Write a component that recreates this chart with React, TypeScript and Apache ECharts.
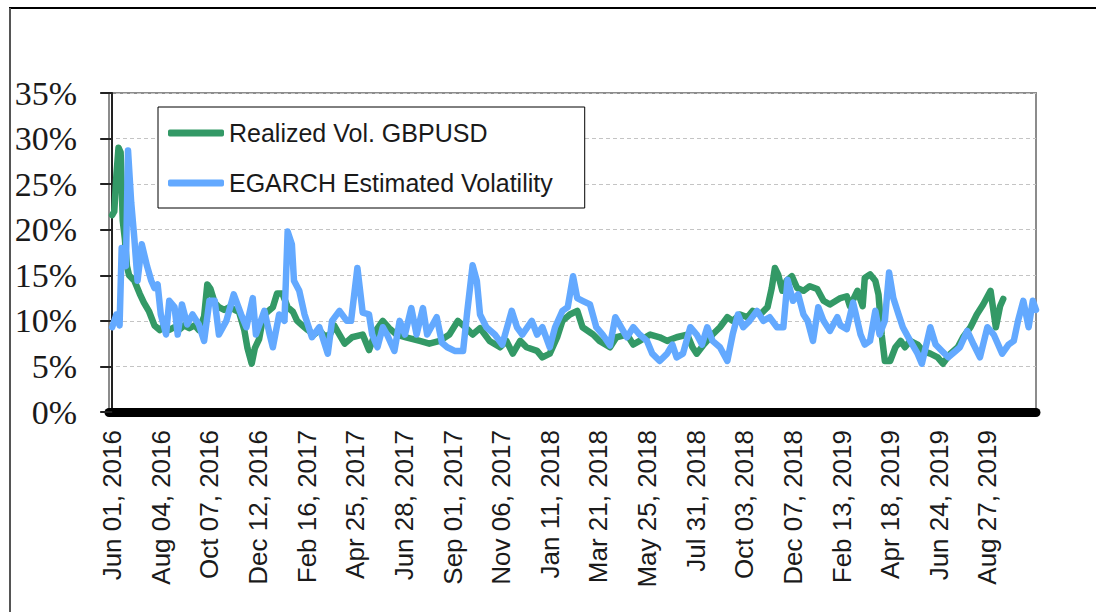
import React, { useEffect, useRef } from "react";
import * as echarts from "echarts";

// Business-day index of each tick label (0 = Jun 01, 2016)
const tickDays = [0, 46, 92, 138, 184, 230, 276, 322, 368, 414, 460, 506, 552, 598, 644, 690, 736, 782, 828];
const tickLabels = [
  "Jun 01, 2016", "Aug 04, 2016", "Oct 07, 2016", "Dec 12, 2016", "Feb 16, 2017",
  "Apr 25, 2017", "Jun 28, 2017", "Sep 01, 2017", "Nov 06, 2017", "Jan 11, 2018",
  "Mar 21, 2018", "May 25, 2018", "Jul 31, 2018", "Oct 03, 2018", "Dec 07, 2018",
  "Feb 13, 2019", "Apr 18, 2019", "Jun 24, 2019", "Aug 27, 2019",
];

const yTicks = [0, 5, 10, 15, 20, 25, 30, 35];

// Realized Vol. GBPUSD (%)
const realizedDays = [
  0, 2, 4, 6, 8, 10, 12, 14, 16, 21, 26, 30, 35, 40, 45, 49, 54, 59, 63, 68, 73, 78, 82, 87, 90, 93, 97, 101,
  106, 111, 116, 120, 125, 128, 132, 135, 139, 143, 147, 152, 156, 161, 166, 171, 175, 180, 185, 191, 196,
  201, 206, 210, 215, 220, 227, 237, 243, 250, 256, 262, 269, 278, 291, 300, 310, 319, 327, 335, 341, 348,
  357, 367, 373, 379, 386, 392, 402, 407, 414, 421, 426, 433, 440, 445, 455, 461, 471, 477, 487, 493, 499,
  509, 518, 525, 534, 544, 549, 553, 559, 568, 575, 582, 587, 594, 601, 606, 613, 620, 624, 627, 630, 634,
  638, 643, 648, 654, 660, 667, 673, 679, 689, 695, 698, 705, 710, 712, 717, 722, 725, 728, 731, 736, 741,
  746, 750, 755, 762, 767, 774, 781, 786, 793, 800, 805, 812, 818, 824, 831, 836, 840, 843,
];
const realizedVol = [
  21.6, 22, 26, 29, 28.5, 21, 19, 16, 15, 14.4, 13, 12, 11, 9.5, 9, 9.5, 9, 9.3, 9, 9.5, 9.2, 9.5, 9, 10.5, 14, 13.5, 12, 11.5,
  11.2, 11.5, 11.2, 11, 9, 7, 5.3, 7, 8, 10.5, 11, 11.5, 13, 13, 11.5, 11, 10, 9.5, 9, 8.5, 9,
  8.3, 8.5, 9.5, 8.5, 7.5, 8.2, 8.5, 6.8, 9, 10, 9.2, 8.5, 8.2, 7.8, 7.5, 7.8, 8.5, 10, 9.2, 8.5, 9.2,
  7.8, 7.1, 7.8, 6.4, 7.8, 7.1, 6.7, 6, 6.4, 8.2, 10, 10.7, 11.1, 9.3, 8.5, 7.8, 7.1, 8.2, 8.5, 7.4, 7.8,
  8.5, 8.2, 7.8, 8.2, 8.5, 7.1, 6.4, 7.3, 8.5, 9.3, 10.4, 10, 10.7, 10.4, 11.1, 10.7, 11.5, 13.6, 15.8, 15.1, 13.3,
  14.4, 14.9, 13.6, 13.3, 13.8, 13.5, 12.2, 11.8, 12.5, 12.7, 11.6, 13.3, 11.6, 14.7, 15.1, 14.4, 12.9, 8.5, 5.6, 5.6, 7.1,
  7.8, 7.1, 7.8, 7.4, 6.7, 6.4, 6, 5.3, 6.4, 7.1, 8.2, 9.3, 10.7, 11.8, 13.3, 9.3, 11.6, 12.4,
];

// EGARCH Estimated Volatility (%)
const egarchDays = [
  0, 4, 7, 9, 13, 15, 18, 21, 24, 28, 33, 37, 40, 43, 46, 51, 54, 59, 62, 66, 71, 76, 82, 87, 92, 97, 101, 108,
  115, 122, 127, 133, 136, 144, 149, 152, 158, 163, 166, 170, 172, 177, 182, 189, 196, 204, 208, 215, 222, 226,
  232, 237, 243, 246, 251, 256, 260, 267, 272, 277, 283, 288, 294, 298, 307, 312, 317, 324, 332, 336, 341, 345,
  348, 354, 362, 369, 378, 383, 388, 397, 402, 407, 414, 419, 426, 431, 436, 440, 445, 452, 458, 464, 471, 476,
  480, 487, 493, 499, 506, 511, 518, 525, 530, 534, 540, 547, 553, 558, 563, 568, 575, 582, 587, 592, 597, 603,
  610, 616, 622, 629, 635, 639, 644, 649, 654, 658, 663, 668, 673, 679, 686, 689, 695, 701, 708, 712, 717, 722,
  726, 731, 735, 739, 744, 748, 755, 762, 766, 771, 774, 779, 785, 791, 798, 802, 809, 815, 821, 828, 834, 842,
  848, 853, 857, 862, 867, 871, 874,
];
const egarchVol = [
  9.3, 10.7, 9.5, 18, 16, 28.7, 23, 19, 14.4, 18.4, 16, 14.4, 13.6, 14, 10.7, 8.5, 12.2, 11.5, 8.5, 11.8, 9.6, 10.7, 9.6, 7.8, 12.2, 12.2, 8.5, 10,
  12.9, 10.7, 9.3, 12.5, 8.5, 11.1, 8.5, 7.1, 10.7, 10, 19.8, 18.4, 14.4, 13.3, 10.7, 8.2, 9.3, 6.4, 10, 11.1, 10, 10,
  15.8, 10.9, 10.7, 8.5, 7.1, 9.3, 8.5, 6.7, 10, 8.5, 11.4, 8.5, 11.4, 8.5, 10.4, 7.6, 7.1, 6.7, 6.7, 11.1, 16.1, 14.4,
  10.7, 9.3, 8.5, 7.4, 11.1, 9.3, 8.5, 10, 8.5, 9.3, 7.1, 9.3, 11.1, 11.5, 14.9, 12.5, 12.2, 11.8, 9.3, 8.5, 7.3, 10.4,
  9.6, 8.2, 9.3, 8.5, 7.8, 6.4, 5.6, 6.4, 7.4, 6, 6.4, 9.3, 8.5, 7.4, 9.3, 7.8, 7.1, 5.6, 8.5, 10.7, 9.3, 10,
  11.1, 10, 10.4, 9.3, 9.3, 14.5, 12.2, 12.9, 10.7, 10, 7.8, 11.5, 10, 8.9, 10.4, 9.5, 9.1, 12, 8.5, 7.4, 7.8, 11.1,
  8.5, 10, 15.3, 12.5, 10.7, 9.3, 7.8, 6.4, 5.3, 7.8, 9.3, 7.4, 6.7, 6, 6.7, 7.1, 8.9, 7.4, 6, 9.3, 8.5, 6.4,
  7.4, 7.8, 10, 12.2, 9.3, 12.2, 11.2,
];

const GREEN = "#339966";
const BLUE = "#63a9ff";

export default function App() {
  const ref = useRef<HTMLDivElement>(null);

  useEffect(() => {
    if (!ref.current) return;
    const chart = echarts.init(ref.current, undefined, { renderer: "svg" });
    const labelMap: Record<number, string> = {};
    tickDays.forEach((d, i) => (labelMap[d] = tickLabels[i]));

    chart.setOption({
      animation: false,
      backgroundColor: "#ffffff",
      graphic: [
        { type: "line", shape: { x1: 9, y1: 8, x2: 1096, y2: 8 }, style: { stroke: "#000", lineWidth: 2 } },
        { type: "line", shape: { x1: 10, y1: 8, x2: 10, y2: 612 }, style: { stroke: "#555", lineWidth: 2 } },
      ],
      grid: {
        left: 109,
        top: 93,
        width: 927,
        height: 319,
        show: true,
        borderColor: "#8c8c8c",
        borderWidth: 2,
        backgroundColor: "transparent",
      },
      legend: {
        orient: "vertical",
        left: 158,
        top: 107,
        padding: [11, 32, 10, 10],
        itemGap: 20,
        itemWidth: 56,
        itemHeight: 7,
        icon: "roundRect",
        borderColor: "#000",
        borderWidth: 1,
        backgroundColor: "#fff",
        textStyle: { fontFamily: "Liberation Sans", fontSize: 25, color: "#1a1a1a", lineHeight: 30 },
        data: ["Realized Vol. GBPUSD", "EGARCH Estimated Volatility"],
      },
      xAxis: {
        type: "value",
        min: -3,
        max: 874,
        offset: 7,
        splitLine: { show: false },
        axisLine: { show: true, lineStyle: { color: "#000", width: 9 } },
        axisTick: { show: false },
        axisLabel: {
          customValues: tickDays,
          rotate: 90,
          margin: 11,
          fontFamily: "Liberation Sans",
          fontSize: 26,
          color: "#1a1a1a",
          formatter: (v: number) => labelMap[v] ?? "",
        },
      },
      yAxis: {
        type: "value",
        min: 0,
        max: 35,
        interval: 5,
        axisLine: { show: true, lineStyle: { color: "#222", width: 2 } },
        axisTick: { show: true, length: 12, lineStyle: { color: "#222", width: 2 } },
        splitLine: { show: true, lineStyle: { color: "#c4c4c4", type: [4, 3], width: 1 } },
        axisLabel: {
          margin: 32,
          fontFamily: "Liberation Serif",
          fontSize: 34,
          color: "#1a1a1a",
          formatter: (v: number) => (yTicks.includes(v) ? `${v}%` : ""),
        },
      },
      series: [
        {
          name: "Realized Vol. GBPUSD",
          type: "line",
          data: realizedDays.map((d, i) => [d, realizedVol[i]]),
          showSymbol: false,
          symbol: "none",
          color: GREEN,
          lineStyle: { color: GREEN, width: 6.5, cap: "round", join: "round" },
          z: 2,
        },
        {
          name: "EGARCH Estimated Volatility",
          type: "line",
          data: egarchDays.map((d, i) => [d, egarchVol[i]]),
          showSymbol: false,
          symbol: "none",
          color: BLUE,
          lineStyle: { color: BLUE, width: 6.5, cap: "round", join: "round" },
          z: 3,
        },
      ],
    });
    return () => chart.dispose();
  }, []);

  return (
    <div
      ref={ref}
      style={{ position: "fixed", left: 0, top: 0, width: 1096, height: 612, background: "#fff" }}
    />
  );
}
